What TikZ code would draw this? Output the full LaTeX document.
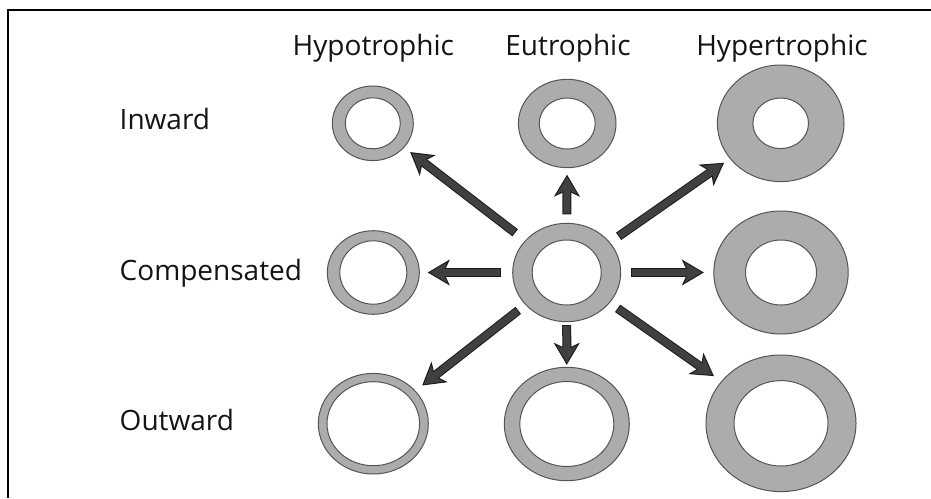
\documentclass[tikz,border=0pt]{standalone}
\usepackage{fontspec}
\setmainfont{Open Sans}
\usetikzlibrary{shapes.geometric,arrows.meta}

\definecolor{ringfill}{RGB}{172,172,172}
\definecolor{ringline}{RGB}{85,85,85}
\definecolor{arrowfill}{RGB}{64,64,64}
\definecolor{arrowline}{RGB}{28,28,28}
\definecolor{labeltext}{RGB}{20,20,20}

\tikzset{
  vessel/.style={ellipse, draw=ringline, line width=1pt, fill=ringfill, inner sep=0pt, outer sep=0pt},
  lumen/.style={draw=ringline, line width=1pt, fill=white},
  arrowout/.style={draw=arrowline, line width=9pt,
    -{Stealth[length=22pt, width=26pt, inset=6pt, line width=1pt, fill=arrowfill]}},
  arrowin/.style={draw=arrowfill, line width=7pt},
  lbl/.style={text=labeltext, inner sep=0pt, font=\fontsize{28}{30}\selectfont},
}

% a vessel ring: name, centre x, centre y, outer radii, lumen radii
\newcommand\vesselring[7]{%
  \node[vessel, minimum width=#4*2pt, minimum height=#5*2pt] (#1) at (#2,#3) {};
  \draw[lumen] (#1.center) ellipse [x radius=#6pt, y radius=#7pt];
}
% a thick outlined arrow between two rings: from, to, gap at tail, gap at tip
\newcommand\remodelarrow[4]{%
  \draw[arrowout, shorten <=#3pt, shorten >=#4pt] (#1) -- (#2);
  \draw[arrowin, shorten <=#3pt+1pt, shorten >=#4pt+15pt] (#1) -- (#2);
}

\begin{document}
\begin{tikzpicture}[x=1pt, y=-1pt]
  \useasboundingbox (0,0) rectangle (931,498);
  \fill[white] (0,0) rectangle (931,498);

  % frame edges
  \draw[line width=2pt, black] (7.5,498) -- (7.5,10.3) -- (931,10.3);

  % column headings
  \node[lbl, anchor=base] (thypo) at (373.3,55) {Hypotrophic};
  \node[lbl, anchor=base] (teu) at (568,55) {Eutrophic};
  \node[lbl, anchor=base] (thyper) at (782,55) {Hypertrophic};

  % row headings
  \node[lbl, anchor=base west] (tin) at (119.5,129) {Inward};
  \node[lbl, anchor=base west] (tcomp) at (119.5,280) {Compensated};
  \node[lbl, anchor=base west] (tout) at (119.5,430) {Outward};

  % rings
  \vesselring{h1}{372.8}{123.3}{40.5}{37.3}{27.5}{25.5}
  \vesselring{e1}{567.2}{123.5}{48.8}{44.2}{28}{25.5}
  \vesselring{y1}{780.7}{123.3}{63.3}{58.3}{27.8}{25.3}
  \vesselring{h2}{373.3}{272.5}{46}{41.8}{33.5}{31.7}
  \vesselring{c}{566.7}{272.5}{54}{49.2}{34.5}{32.5}
  \vesselring{y2}{781}{272.5}{67.2}{61.5}{35.5}{32.5}
  \vesselring{h3}{373.3}{423.7}{55}{50.3}{46.3}{42}
  \vesselring{e3}{566.8}{424}{62.5}{56.7}{47}{42.5}
  \vesselring{y3}{781}{423.3}{75}{68.3}{47}{42.7}

  % arrows from the central ring
  \remodelarrow{c}{h1}{13}{8}
  \remodelarrow{c}{e1}{9}{7}
  \remodelarrow{c}{y1}{11}{7.5}
  \remodelarrow{c}{h2}{11.5}{8.5}
  \remodelarrow{c}{y2}{10}{10}
  \remodelarrow{c}{h3}{9.5}{9}
  \remodelarrow{c}{e3}{3.5}{2.5}
  \remodelarrow{c}{y3}{10}{9.5}
\end{tikzpicture}
\end{document}
